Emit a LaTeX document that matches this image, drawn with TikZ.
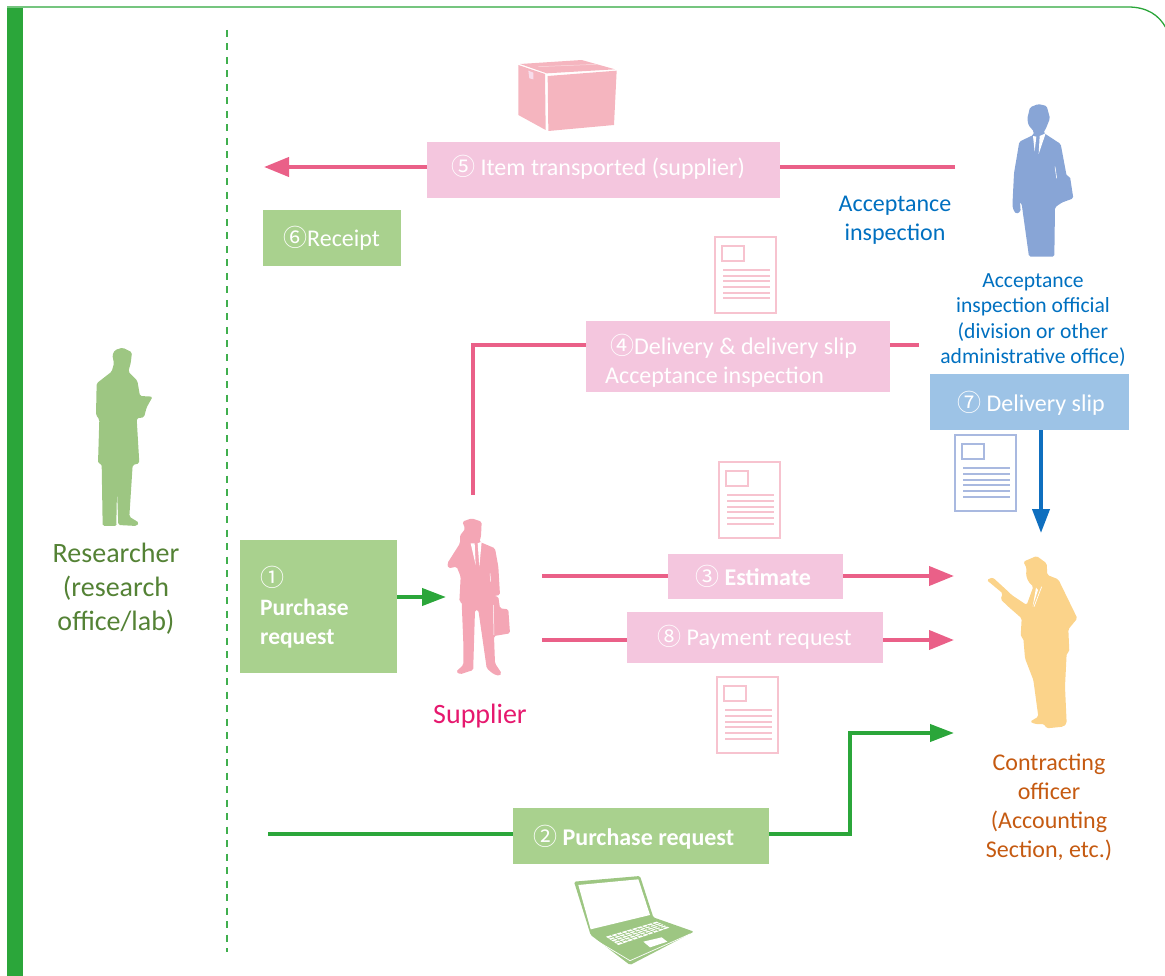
\documentclass[tikz,border=0pt]{standalone}
\usepackage{fontspec}
\setmainfont{Carlito}
\newfontfamily\numfont{Noto Sans CJK JP}
\usetikzlibrary{arrows.meta,calc}
\definecolor{barG}{HTML}{2BA63A}
\definecolor{boxG}{HTML}{A9D18E}
\definecolor{boxP}{HTML}{F4C6DE}
\definecolor{boxB}{HTML}{9DC3E6}
\definecolor{lineP}{HTML}{EA6088}
\definecolor{lineB}{HTML}{0F6FBF}
\definecolor{docP}{HTML}{F7C3CF}
\definecolor{docB}{HTML}{A9B9E0}
\definecolor{figG}{HTML}{9DC682}
\definecolor{figP}{HTML}{F4A6B5}
\definecolor{figB}{HTML}{88A5D6}
\definecolor{figY}{HTML}{FBD38A}
\definecolor{crate}{HTML}{F5B5BF}
\definecolor{txtG}{HTML}{548235}
\definecolor{txtP}{HTML}{E6186E}
\definecolor{txtB}{HTML}{0070C0}
\definecolor{txtO}{HTML}{C55A11}
\newcommand{\cn}[1]{{\numfont\fontsize{24}{24}\selectfont #1}}
\tikzset{
  greenbox/.style={fill=boxG,draw=none,rectangle,anchor=north west,inner sep=0pt},
  pinkbox/.style={fill=boxP,draw=none,rectangle,anchor=north west,inner sep=0pt},
  bluebox/.style={fill=boxB,draw=none,rectangle,anchor=north west,inner sep=0pt},
  lbl/.style={text=white,font=\fontsize{24}{29}\selectfont,anchor=west,inner sep=0pt,align=left},
  role/.style={align=center,inner sep=0pt},
  conn/.style={line width=4pt},
  tipP/.style={-{Triangle[length=25pt,width=19pt]}},
  tipG/.style={-{Triangle[length=24pt,width=17pt]}},
  tipB/.style={-{Triangle[length=24pt,width=17pt]}},
  figure/.style={rounded corners=1.6pt},
  docicon/.pic={
    \draw[pic actions,line width=2pt] (0,0) rectangle (61,76);
    \draw[pic actions,line width=2pt] (7,9) rectangle (29,24);
    \foreach \yy in {33,39,44.5,50,56,61.5}
      \draw[pic actions,line width=2pt] (8,\yy) -- (55,\yy);
  }
}
\begin{document}
\begin{tikzpicture}[x=1pt,y=-1pt]
\useasboundingbox (0,0) rectangle (1165,976);
% frame
\fill[barG] (7,8) rectangle (23,976);
\draw[barG,line width=1.3pt] (7,7) -- (1128,7) .. controls (1147,7) and (1159,15) .. (1166,28);
\draw[barG!90!white,line width=2.4pt,dash pattern=on 7pt off 6.5pt] (227,30) -- (227,952);

% boxes
\node[pinkbox,minimum width=353pt,minimum height=56pt] (n5) at (427,142) {};
\node[greenbox,minimum width=138pt,minimum height=56pt] (n6) at (263,210) {};
\node[pinkbox,minimum width=304pt,minimum height=71pt] (n4) at (586,321) {};
\node[bluebox,minimum width=199pt,minimum height=56pt] (n7) at (930,374) {};
\node[greenbox,minimum width=157pt,minimum height=133pt] (n1) at (240,540) {};
\node[pinkbox,minimum width=175pt,minimum height=45pt] (n3) at (668,554) {};
\node[pinkbox,minimum width=256pt,minimum height=51pt] (n8) at (627,612) {};
\node[greenbox,minimum width=256pt,minimum height=56pt] (n2) at (513,808) {};

% free connector ends
\coordinate (a5s) at (955,167);
\coordinate (a5e) at (264,167);
\coordinate (a4s) at (919,345);
\coordinate (a4e) at (473,495);
\coordinate (a7e) at (1041,533);
\coordinate (a1e) at (446,597);
\coordinate (a3s) at (542,576);
\coordinate (a3e) at (954,576);
\coordinate (a8s) at (542,640);
\coordinate (a8e) at (954,640);
\coordinate (a2s) at (268,834);
\coordinate (a2e) at (954,733);

% connectors
\draw[lineP,conn] (a5s) -- (a5s -| n5.east);
\draw[lineP,conn,tipP] (a5s -| n5.west) -- (a5e);
\draw[lineP,conn] (a4s) -- (a4s -| n4.east);
\draw[lineP,conn] (a4s -| n4.west) -| (a4e);
\draw[lineB,conn,tipB] (a7e |- n7.south) -- (a7e);
\draw[barG,conn,tipG] (a1e -| n1.east) -- (a1e);
\draw[lineP,conn] (a3s) -- (a3s -| n3.west);
\draw[lineP,conn,tipP] (a3s -| n3.east) -- (a3e);
\draw[lineP,conn] (a8s) -- (a8s -| n8.west);
\draw[lineP,conn,tipP] (a8s -| n8.east) -- (a8e);
\draw[barG,conn] (a2s) -- (a2s -| n2.west);
\draw[barG,conn,tipG] (a2s -| n2.east) -- (850,834) -- (850,733) -- (a2e);

% box labels
\node[lbl] (t5) at (451,167) {\cn{⑤} Item transported (supplier)};
\node[lbl] (t6) at (283,238) {\cn{⑥}Receipt};
\node[lbl] (t4) at (605,361) {\hspace*{5pt}\cn{④}Delivery \& delivery slip\\Acceptance inspection};
\node[lbl] (t7) at (957,403) {\cn{⑦} Delivery slip};
\node[lbl,font=\fontsize{23.5}{29}\selectfont\bfseries] (t1) at (260,607) {\mdseries\cn{①}\\Purchase\\request};
\node[lbl] (t3) at (695,576) {\cn{③} \textbf{Estimate}};
\node[lbl] (t8) at (657,637) {\cn{⑧} Payment request};
\node[lbl] (t2) at (533,837) {\cn{②} \textbf{Purchase request}};

% role labels
\node[role,text=txtG,font=\fontsize{28}{34}\selectfont] (rR) at (116,589) {Researcher\\(research\\office/lab)};
\node[role,text=txtP,font=\fontsize{28}{30}\selectfont] (rS) at (480,716) {Supplier};
\node[role,text=txtB,font=\fontsize{24}{29}\selectfont] (rA) at (895,220) {Acceptance\\inspection};
\node[role,text=txtB,font=\fontsize{21.6}{25.3}\selectfont] (rO) at (1033,320) {Acceptance\\inspection official\\(division or other\\administrative office)};
\node[role,text=txtO,font=\fontsize{24}{29}\selectfont] (rC) at (1049,807) {Contracting\\officer\\(Accounting\\Section, etc.)};

% documents
\pic[draw=docP] at (715,237) {docicon};
\pic[draw=docP] at (719,462) {docicon};
\pic[draw=docP] at (717,677) {docicon};
\pic[draw=docB] at (955,435) {docicon};

% researcher
\begin{scope}[shift={(0,320)},scale=1/3]
\fill[figG,figure] (345,90)--(368,83)--(396,97)--(392,130)--(385,155)--(412,182)--(420,228)--(458,230)--(440,262)--(432,292)--(410,295)--(418,430)--(398,435)--(388,590)--(417,608)--(410,618)--(355,615)--(351,510)--(349,610)--(350,618)--(308,618)--(305,432)--(294,430)--(298,298)--(288,285)--(290,190)--(335,155)--(342,130)--(337,105)--cycle;
\end{scope}
% inspection official
\begin{scope}[shift={(940,0)},scale=1/3]
\fill[figB,figure] (295,312)--(320,318)--(330,355)--(318,385)--(310,398)--(362,432)--(380,528)--(390,530)--(400,595)--(365,608)--(345,622)--(343,770)--(267,770)--(245,612)--(240,605)--(242,635)--(228,642)--(218,625)--(218,600)--(222,520)--(238,425)--(280,405)--(282,395)--(265,375)--(262,355)--(270,322)--cycle;
\fill[white] (279,408)--(284,455)--(289,410)--cycle (299,408)--(296,462)--(317,400)--cycle;
\draw[white,line width=.6pt] (345,500)--(350,535);
\end{scope}
% supplier
\begin{scope}[shift={(430,500)},scale=1/3]
\fill[figP,figure] (97,65)--(125,55)--(155,65)--(153,110)--(148,125)--(195,145)--(205,200)--(210,285)--(192,288)--(205,290)--(210,325)--(235,328)--(240,400)--(192,408)--(195,490)--(215,520)--(208,528)--(190,522)--(170,505)--(168,490)--(145,330)--(135,330)--(130,495)--(130,510)--(90,523)--(78,515)--(100,495)--(100,430)--(95,305)--(88,305)--(92,230)--(80,200)--(55,205)--(52,190)--(90,130)--(90,105)--(100,95)--(105,85)--cycle;
\fill[white] (122,130)--(137,195)--(134,130)--cycle (143,130)--(148,200)--(155,125)--cycle;
\draw[white,line width=.5pt] (190,315)--(192,405) (180,220)--(182,245);
\end{scope}
% contracting officer
\begin{scope}[shift={(970,540)},scale=1/3]
\fill[figY,figure] (160,65)--(200,48)--(230,70)--(232,105)--(265,118)--(322,235)--(295,268)--(298,335)--(290,340)--(285,440)--(290,550)--(280,560)--(230,565)--(222,552)--(195,552)--(180,545)--(205,530)--(190,420)--(165,355)--(160,295)--(152,290)--(155,235)--(115,200)--(92,178)--(98,160)--(50,120)--(68,112)--(115,155)--(125,165)--(170,195)--(190,140)--(175,125)--(168,105)--(170,85)--cycle;
\fill[white] (198,143)--(188,200)--(204,150)--cycle;
\draw[white,line width=.7pt] (215,140)--(192,200);
\end{scope}
% laptop
\begin{scope}[shift={(550,860)},scale=1/3]
\fill[figG,rounded corners=1.5pt] (72,65)--(270,48)--(310,172)--(432,215)--(240,315)--(122,225)--cycle;
\fill[white] (85,75)--(265,58)--(300,165)--(122,208)--cycle;
\fill[white] (168,230)--(320,185)--(358,203)--(205,255)--cycle;
\foreach \t in {.2,.4,.6,.8}
  \draw[figG,line width=.6pt] ($(168,230)!\t!(205,255)$) -- ($(320,185)!\t!(358,203)$);
\foreach \t in {.1,.2,.3,.4,.5,.6,.7,.8,.9}
  \draw[figG,line width=.6pt] ($(168,230)!\t!(320,185)$) -- ($(205,255)!\t!(358,203)$);
\fill[white] (280,245)--(335,232)--(352,245)--(300,262)--cycle;
\draw[white,line width=.7pt] (128,235)--(240,302)--(420,222);
\end{scope}
% crate
\begin{scope}[shift={(500,50)},scale=1/3]
\fill[crate] (55,45)--(135,72)--(137,240)--(55,195)--cycle;
\fill[crate] (143,78)--(350,62)--(342,225)--(145,243)--cycle;
\fill[crate] (60,42)--(245,30)--(345,58)--(140,70)--cycle;
\fill[boxP!60!white] (85,62)--(100,68)--(100,88)--(88,85)--cycle;
\draw[white,line width=.5pt,opacity=.5] (115,50)--(290,43);
\end{scope}
\end{tikzpicture}
\end{document}
